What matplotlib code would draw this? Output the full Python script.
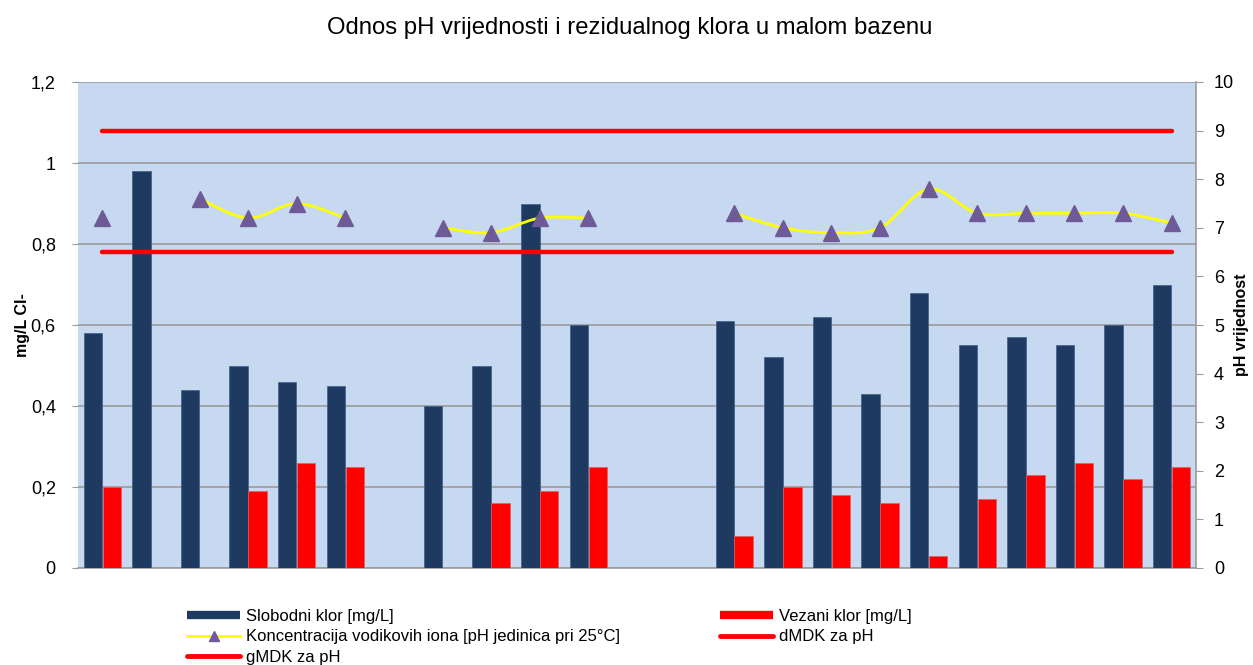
import numpy as np
import matplotlib
matplotlib.use("Agg")
import matplotlib.pyplot as plt
from matplotlib.path import Path
from matplotlib.patches import PathPatch
from matplotlib.lines import Line2D
from matplotlib.ticker import FixedLocator

# ---- data ----
n_cat = 23
slobodni = [0.58, 0.98, 0.44, 0.50, 0.46, 0.45, None, 0.40, 0.50, 0.90, 0.60, None, None,
            0.61, 0.52, 0.62, 0.43, 0.68, 0.55, 0.57, 0.55, 0.60, 0.70]
vezani = [0.20, None, None, 0.19, 0.26, 0.25, None, None, 0.16, 0.19, 0.25, None, None,
          0.08, 0.20, 0.18, 0.16, 0.03, 0.17, 0.23, 0.26, 0.22, 0.25]
ph = [7.2, None, 7.6, 7.2, 7.5, 7.2, None, 7.0, 6.9, 7.2, 7.2, None, None,
      7.3, 7.0, 6.9, 7.0, 7.8, 7.3, 7.3, 7.3, 7.3, 7.1]
gmdk = 9.0
dmdk = 6.5
left_ticks = [0, 0.2, 0.4, 0.6, 0.8, 1.0, 1.2]
left_labels = ["0", "0,2", "0,4", "0,6", "0,8", "1", "1,2"]
right_ticks = list(range(0, 11))

title = "Odnos pH vrijednosti i rezidualnog klora u malom bazenu"
lbl_s = "Slobodni klor [mg/L]"
lbl_v = "Vezani klor [mg/L]"
lbl_ph = "Koncentracija vodikovih iona [pH jedinica pri 25°C]"
lbl_d = "dMDK za pH"
lbl_g = "gMDK za pH"

# ---- style ----
navy = "#1F3A60"
red = "#FF0000"
bg = "#C6D9F0"
purple = "#6E5A96"
yellow = "#FFFF00"
grid_c = "#9A9A9A"
plt.rcParams['font.family'] = ["Liberation Sans", "DejaVu Sans"]

W, H = 1253, 665
fig = plt.figure(figsize=(W / 100, H / 100), dpi=100)
ax = fig.add_axes([78 / W, 1 - 568 / H, (1196 - 78) / W, (568 - 82) / H])
ax2 = ax.twinx()

ax.set_facecolor(bg)
ax.set_zorder(1)
ax2.set_zorder(2)
ax2.patch.set_visible(False)

x = np.arange(n_cat)
bw = 0.38
xs = [i for i in x if slobodni[i] is not None]
ax.bar(np.array(xs) - 0.195, [slobodni[i] for i in xs], width=bw, color=navy,
       edgecolor="#3F5F88", linewidth=0.5, zorder=3)
xv = [i for i in x if vezani[i] is not None]
ax.bar(np.array(xv) + 0.195, [vezani[i] for i in xv], width=bw, color=red,
       edgecolor="#E06060", linewidth=0.5, zorder=3)

ax.set_xlim(-0.5, n_cat - 0.5)
ax.set_ylim(0, 1.2)
ax.yaxis.set_major_locator(FixedLocator(left_ticks))
ax.set_yticklabels(left_labels, fontsize=13)
ax.grid(axis='y', color=grid_c, linewidth=1.2, zorder=0)
ax.set_axisbelow(True)
ax.tick_params(axis='y', length=4, color=grid_c, pad=12)
ax.tick_params(axis='x', length=0, labelbottom=False)
for s in ['top', 'left', 'right']:
    ax.spines[s].set_visible(False)
ax.spines['bottom'].set_color(grid_c)
ax.spines['bottom'].set_linewidth(1.2)
ax.set_ylabel("mg/L Cl-", fontsize=11.5, fontweight='bold')
ax.yaxis.set_label_coords(-(78 - 30) / (1196 - 78), 0.5)

# secondary axis
ax2.set_ylim(0, 10)
ax2.yaxis.set_major_locator(FixedLocator(right_ticks))
ax2.tick_params(axis='y', length=5, color=grid_c, labelsize=13, pad=8)
for s in ['top', 'left', 'bottom']:
    ax2.spines[s].set_visible(False)
ax2.spines['right'].set_color(grid_c)
ax2.spines['right'].set_linewidth(1.2)
ax2.set_ylabel("pH vrijednost", fontsize=11.5, fontweight='bold')
ax2.yaxis.set_label_coords((1234 - 78) / (1196 - 78), 0.5)

# MDK lines
ax2.plot([0, n_cat - 1], [gmdk, gmdk], color=red, linewidth=3.2, solid_capstyle='round', zorder=4)
ax2.plot([0, n_cat - 1], [dmdk, dmdk], color=red, linewidth=3.2, solid_capstyle='round', zorder=4)

# smooth pH line segments (Catmull-Rom Bezier through data points)
segs = []
cur = []
for i in range(n_cat):
    if ph[i] is None:
        if cur:
            segs.append(cur)
        cur = []
    else:
        cur.append((i, ph[i]))
if cur:
    segs.append(cur)

t = 1.0 / 6.0
for seg in segs:
    if len(seg) < 2:
        continue
    P = np.array(seg, dtype=float)
    verts = [tuple(P[0])]
    codes = [Path.MOVETO]
    for k in range(len(P) - 1):
        p0 = P[k - 1] if k > 0 else P[k]
        p1 = P[k]
        p2 = P[k + 1]
        p3 = P[k + 2] if k + 2 < len(P) else P[k + 1]
        c1 = p1 + (p2 - p0) * t
        c2 = p2 - (p3 - p1) * t
        verts += [tuple(c1), tuple(c2), tuple(p2)]
        codes += [Path.CURVE4] * 3
    ax2.add_patch(PathPatch(Path(verts, codes), facecolor='none', edgecolor=yellow,
                            linewidth=2.0, zorder=5))

xp = [i for i in x if ph[i] is not None]
ax2.plot(xp, [ph[i] for i in xp], linestyle='none', marker='^', markersize=11,
         color=purple, markeredgecolor=purple, zorder=6)

fig.text(630 / W, 1 - 28 / H, title, ha='center', va='center', fontsize=17.2)

# legend (two separate blocks, matching the reference layout)
h_s = Line2D([], [], color=navy, linewidth=6, solid_capstyle='butt')
h_v = Line2D([], [], color=red, linewidth=6, solid_capstyle='butt')
h_ph = Line2D([], [], color=yellow, linewidth=2, marker='^', markersize=7,
              markerfacecolor=purple, markeredgecolor=purple)
h_d = Line2D([], [], color=red, linewidth=3.5, solid_capstyle='round')
h_g = Line2D([], [], color=red, linewidth=3.5, solid_capstyle='round')
common = dict(loc='upper left', frameon=False, prop={'size': 12},
              handlelength=3.2, handletextpad=0.35, labelspacing=0.33, borderpad=0,
              borderaxespad=0)
leg1 = fig.legend([h_s, h_ph, h_g], [lbl_s, lbl_ph, lbl_g],
                  bbox_to_anchor=(187 / W, 1 - 609 / H), **common)
leg2 = fig.legend([h_v, h_d], [lbl_v, lbl_d],
                  bbox_to_anchor=(720 / W, 1 - 609 / H), **common)

fig.savefig("out.png", dpi=100)
